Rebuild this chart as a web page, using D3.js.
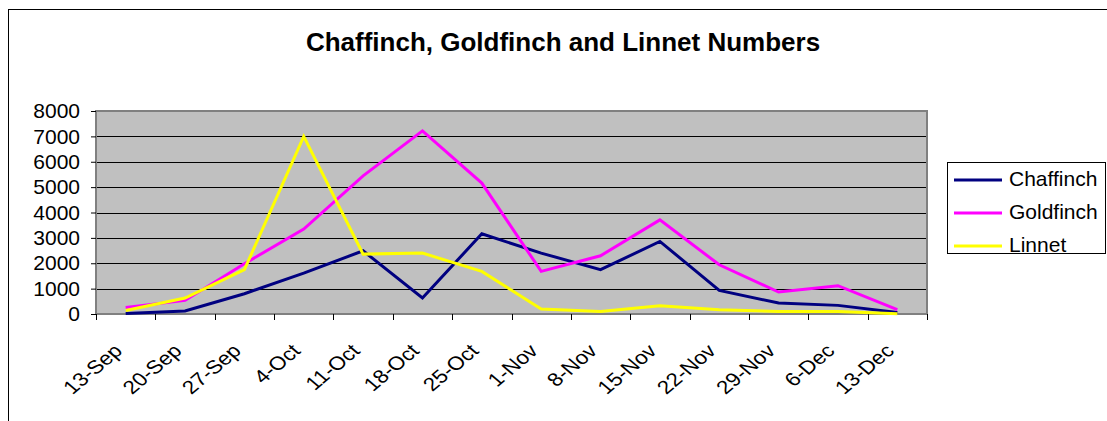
<!DOCTYPE html>
<script src="https://d3js.org/d3.v7.min.js"></script>
<style>
body { margin: 0; background: #fff; font-family: 'Liberation Sans', Arial, sans-serif; }
</style>
<svg width="1107" height="421"></svg>
<script>
// weekly counts
var weeks = ["13-Sep","20-Sep","27-Sep","4-Oct","11-Oct","18-Oct","25-Oct","1-Nov","8-Nov","15-Nov","22-Nov","29-Nov","6-Dec","13-Dec"];
var chaffinch = [20, 120, 800, 1610, 2490, 630, 3160, 2400, 1745, 2860, 930, 430, 340, 60];
var goldfinch = [260, 535, 1980, 3350, 5445, 7215, 5160, 1680, 2295, 3710, 1940, 865, 1115, 170];
var linnet = [140, 630, 1745, 7000, 2360, 2400, 1680, 195, 100, 325, 170, 100, 100, 10];
var yTicks = [0, 1000, 2000, 3000, 4000, 5000, 6000, 7000, 8000];

var series = [
	{name: "Chaffinch", values: chaffinch, color: "#000080"},
	{name: "Goldfinch", values: goldfinch, color: "#FF00FF"},
	{name: "Linnet", values: linnet, color: "#FFFF00"}
];

var svg = d3.select("svg");

// outer chart frame (right and bottom run off the picture)
svg.append("rect")
	.attr("x", 8.5).attr("y", 9.5)
	.attr("width", 1110).attr("height", 430)
	.attr("fill", "none").attr("stroke", "#000").attr("stroke-width", 1);

svg.append("text")
	.attr("x", 563).attr("y", 51)
	.attr("text-anchor", "middle")
	.attr("font-weight", "bold")
	.attr("font-size", 26)
	.text("Chaffinch, Goldfinch and Linnet Numbers");

var pLeft = 96, pRight = 927, pTop = 111, pBottom = 314;

var x = d3.scaleBand().domain(weeks).range([pLeft, pRight]);
var y = d3.scaleLinear().domain([0, 8000]).range([pBottom, pTop]);

// plot area
svg.append("rect")
	.attr("x", pLeft).attr("y", pTop)
	.attr("width", pRight - pLeft).attr("height", pBottom - pTop)
	.attr("fill", "#C0C0C0");

svg.append("g")
	.selectAll("line")
	.data(yTicks.slice(1))
	.enter().append("line")
	.attr("x1", pLeft).attr("x2", pRight)
	.attr("y1", function(d) { return Math.round(y(d)) + 0.5; })
	.attr("y2", function(d) { return Math.round(y(d)) + 0.5; })
	.attr("stroke", "#000").attr("stroke-width", 1);

svg.append("rect")
	.attr("x", pLeft).attr("y", pTop)
	.attr("width", pRight - pLeft).attr("height", pBottom - pTop)
	.attr("fill", "none").attr("stroke", "#808080").attr("stroke-width", 2);

// y axis
var yAxis = svg.append("g")
	.attr("transform", "translate(" + pLeft + ",0)")
	.call(d3.axisLeft(y).tickValues(yTicks).tickSize(5).tickPadding(11).tickFormat(d3.format("d")));
yAxis.select(".domain").remove();
yAxis.selectAll("line").attr("stroke", "#000");
yAxis.selectAll("text").attr("font-size", 21).attr("font-family", "'Liberation Sans', Arial, sans-serif").attr("fill", "#000");

// x axis ticks at band edges
var edges = weeks.map(function(d) { return x(d); }).concat([pRight]);
svg.append("g")
	.selectAll("line")
	.data(edges)
	.enter().append("line")
	.attr("x1", function(d) { return Math.round(d) + 0.5; })
	.attr("x2", function(d) { return Math.round(d) + 0.5; })
	.attr("y1", pBottom).attr("y2", pBottom + 6)
	.attr("stroke", "#000");

// labels look slightly stretched sideways in the original
svg.append("g")
	.selectAll("text")
	.data(weeks)
	.enter().append("text")
	.attr("transform", function(d) {
		return "translate(" + (x(d) + x.bandwidth() / 2 - 2) + "," + (pBottom + 38) + ") scale(1.18,1) rotate(-45)";
	})
	.attr("text-anchor", "end")
	.attr("font-size", 19)
	.text(function(d) { return d; });

// lines
var line = d3.line()
	.x(function(d, i) { return x(weeks[i]) + x.bandwidth() / 2; })
	.y(function(d) { return y(d); });

svg.append("g")
	.selectAll("path")
	.data(series)
	.enter().append("path")
	.attr("d", function(d) { return line(d.values); })
	.attr("fill", "none")
	.attr("stroke", function(d) { return d.color; })
	.attr("stroke-width", 3);

// legend
svg.append("rect")
	.attr("x", 947.5).attr("y", 162.5)
	.attr("width", 158).attr("height", 91)
	.attr("fill", "#fff").attr("stroke", "#000");

var legend = svg.append("g")
	.selectAll("g")
	.data(series)
	.enter().append("g")
	.attr("transform", function(d, i) { return "translate(954," + (180 + i * 33) + ")"; });

legend.append("line")
	.attr("x1", 0).attr("x2", 48)
	.attr("stroke", function(d) { return d.color; })
	.attr("stroke-width", 3);

legend.append("text")
	.attr("x", 55).attr("y", 0)
	.attr("dy", "0.3em")
	.attr("font-size", 21)
	.text(function(d) { return d.name; });
</script>
